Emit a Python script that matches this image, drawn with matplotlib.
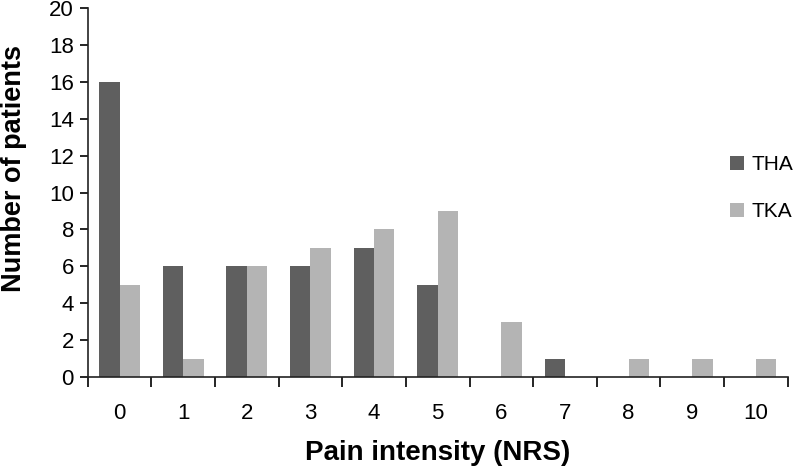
import matplotlib.pyplot as plt
import numpy as np

plt.rcParams['font.family'] = ['Liberation Sans', 'DejaVu Sans']

# Data
scores = ['0', '1', '2', '3', '4', '5', '6', '7', '8', '9', '10']
tha = [16, 6, 6, 6, 7, 5, 0, 1, 0, 0, 0]
tka = [5, 1, 6, 7, 8, 9, 3, 0, 1, 1, 1]

fig = plt.figure(figsize=(7.98, 4.69), dpi=100)
ax = fig.add_axes([0.110, 0.196, 0.877, 0.787])

x = np.arange(len(scores))
w = 0.32
ax.bar(x - w / 2, tha, w, color='#5f5f5f', label='THA')
ax.bar(x + w / 2, tka, w, color='#b4b4b4', label='TKA')

ax.set_xlim(-0.5, len(scores) - 0.5)
ax.set_ylim(0, 20)
ax.set_yticks(range(0, 21, 2))

# ticks sit between the categories, labels centred under them
ax.set_xticks(np.arange(-0.5, len(scores), 1))
ax.set_xticklabels([])
ax.set_xticks(x, minor=True)
ax.set_xticklabels(scores, minor=True)
ax.tick_params(axis='x', which='major', length=7, width=1.2, direction='out')
ax.tick_params(axis='x', which='minor', length=0, pad=19, labelsize=16)
ax.tick_params(axis='y', length=6, width=1.2, labelsize=16, pad=4)

for s in ['top', 'right']:
    ax.spines[s].set_visible(False)
for s in ['left', 'bottom']:
    ax.spines[s].set_linewidth(1.2)
    ax.spines[s].set_color('#222222')

ax.set_xlabel('Pain intensity (NRS)', fontsize=20, fontweight='bold', labelpad=11)
ax.set_ylabel('Number of patients', fontsize=19.5, fontweight='bold')
ax.yaxis.set_label_coords(-0.087, 0.566)

ax.legend(loc='center left', bbox_to_anchor=(0.906, 0.512), frameon=False,
          fontsize=15, handlelength=0.65, handleheight=0.65, handletextpad=0.35,
          labelspacing=1.35, borderaxespad=0)

fig.savefig('out.png', dpi=100)
